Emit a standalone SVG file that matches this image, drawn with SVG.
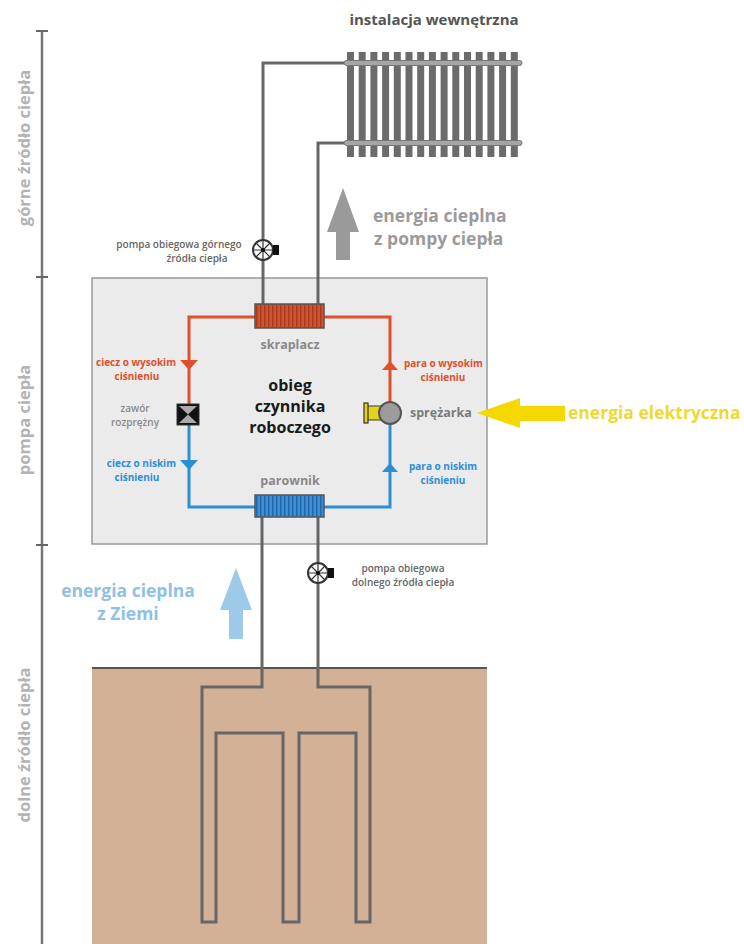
<svg xmlns="http://www.w3.org/2000/svg" width="744" height="944" viewBox="0 0 744 944">
  <defs>
    <style>
      text { font-family: "Open Sans", "Liberation Sans", sans-serif; font-weight: bold; }
      .axis-label { font-size: 16.5px; fill: #b3b3b3; text-anchor: middle; }
      .pipe { fill: none; stroke: #666; stroke-width: 3; }
      .red { fill: none; stroke: #e0502a; stroke-width: 3; }
      .blue { fill: none; stroke: #2b8fd6; stroke-width: 3; }
      .small-red { font-size: 10px; fill: #e0502a; }
      .small-blue { font-size: 10px; fill: #2b8fd6; }
      .grey-lbl { font-size: 10px; fill: #8a8a8a; font-weight: 600; text-anchor: middle; }
      .pump-lbl { font-size: 10px; fill: #666; font-weight: 600; text-anchor: middle; }
      .hx-lbl { font-size: 12.5px; fill: #888; text-anchor: middle; }
      .big { font-size: 17.5px; }
    </style>
    <pattern id="stripesRed" width="4" height="10" patternUnits="userSpaceOnUse">
      <rect width="4" height="10" fill="#cf5530"/>
      <rect width="1.5" height="10" fill="#a83b1e"/>
    </pattern>
    <pattern id="stripesBlue" width="4" height="10" patternUnits="userSpaceOnUse">
      <rect width="4" height="10" fill="#3d90d8"/>
      <rect width="1.5" height="10" fill="#2566a8"/>
    </pattern>
    <g id="pumpSymbol">
      <circle r="10" fill="#fff" stroke="#333" stroke-width="2"/>
      <path d="M-10,0 H10 M0,-10 V10 M-7,-7 L7,7 M-7,7 L7,-7" stroke="#333" stroke-width="1.2"/>
      <circle r="2" fill="#111"/>
      <rect x="10" y="-5" width="6" height="10" fill="#111"/>
    </g>
  </defs>

  <rect width="744" height="944" fill="#fff"/>

  <!-- side scale -->
  <g id="scale">
    <line x1="42" y1="31" x2="42" y2="944" stroke="#777" stroke-width="2.5"/>
    <path d="M36,31 H48 M36,277 H48 M36,545 H48" stroke="#666" stroke-width="2"/>
    <text class="axis-label" transform="translate(30,148) rotate(-90)">górne źródło ciepła</text>
    <text class="axis-label" transform="translate(30,420) rotate(-90)">pompa ciepła</text>
    <text class="axis-label" transform="translate(30,745) rotate(-90)">dolne źródło ciepła</text>
  </g>

  <!-- heat pump casing -->
  <g id="heat-pump-box">
    <rect x="92" y="278" width="395" height="266" fill="#ebebeb" stroke="#999" stroke-width="1.5"/>
  </g>

  <!-- ground -->
  <g id="ground">
    <rect x="92" y="668" width="395" height="276" fill="#d2b196"/>
    <line x1="92" y1="668" x2="487" y2="668" stroke="#555" stroke-width="2"/>
  </g>

  <!-- pipework -->
  <g id="connectors">
    <path class="pipe" d="M345,63 H263 V304"/>
    <path class="pipe" d="M345,143 H318 V304"/>
    <path class="pipe" d="M262,517 V687 H202 V922 H216 V733 H283 V922 H299 V733 H356 V922 H370 V687 H318 V517"/>
    <path class="red" d="M255,317 H189 V404"/>
    <path class="red" d="M324,317 H390 V402"/>
    <path class="blue" d="M189,425 V507 H255"/>
    <path class="blue" d="M324,507 H390 V424"/>
    <polygon points="180,360 198,360 189,370" fill="#e0502a"/>
    <polygon points="382,370 398,370 390,361" fill="#e0502a"/>
    <polygon points="180,460 198,460 189,470" fill="#2b8fd6"/>
    <polygon points="382,472 398,472 390,463" fill="#2b8fd6"/>
  </g>

  <!-- radiator -->
  <g id="radiator">
    <text x="434" y="25" font-size="15" fill="#555" text-anchor="middle">instalacja wewnętrzna</text>
    <g fill="#6b6b6b">
      <rect x="347" y="52" width="7" height="105"/>
      <rect x="358.7" y="52" width="7" height="105"/>
      <rect x="370.4" y="52" width="7" height="105"/>
      <rect x="382.1" y="52" width="7" height="105"/>
      <rect x="393.8" y="52" width="7" height="105"/>
      <rect x="405.5" y="52" width="7" height="105"/>
      <rect x="417.2" y="52" width="7" height="105"/>
      <rect x="428.9" y="52" width="7" height="105"/>
      <rect x="440.6" y="52" width="7" height="105"/>
      <rect x="452.3" y="52" width="7" height="105"/>
      <rect x="464" y="52" width="7" height="105"/>
      <rect x="475.7" y="52" width="7" height="105"/>
      <rect x="487.4" y="52" width="7" height="105"/>
      <rect x="499.1" y="52" width="7" height="105"/>
      <rect x="510.8" y="52" width="7" height="105"/>
    </g>
    <rect x="344" y="60.5" width="178" height="5" rx="2.5" fill="#a5a5a5" stroke="#777" stroke-width="1"/>
    <rect x="344" y="140.5" width="178" height="5" rx="2.5" fill="#a5a5a5" stroke="#777" stroke-width="1"/>
  </g>

  <!-- upper circulation pump -->
  <g id="pump-upper">
    <use href="#pumpSymbol" x="263" y="250"/>
    <text class="pump-lbl" x="179" y="248">pompa obiegowa górnego</text>
    <text class="pump-lbl" x="197" y="262">źródła ciepła</text>
  </g>

  <!-- heat output arrow -->
  <g id="heat-output">
    <polygon points="343,188 359,232 350,232 350,260 336,260 336,232 327,232" fill="#9a9a9a"/>
    <text class="big" x="373" y="222" fill="#9a9a9a">energia cieplna</text>
    <text class="big" x="374" y="245" fill="#9a9a9a">z pompy ciepła</text>
  </g>

  <!-- condenser -->
  <g id="skraplacz">
    <rect x="255" y="304" width="69" height="24" fill="url(#stripesRed)" stroke="#555" stroke-width="1.5"/>
    <text class="hx-lbl" x="290" y="349">skraplacz</text>
  </g>

  <!-- evaporator -->
  <g id="parownik">
    <rect x="255" y="495" width="69" height="22" fill="url(#stripesBlue)" stroke="#555" stroke-width="1.5"/>
    <text class="hx-lbl" x="290" y="485">parownik</text>
  </g>

  <!-- expansion valve -->
  <g id="zawor">
    <rect x="177" y="404" width="22" height="21" fill="#111" stroke="#333" stroke-width="1"/>
    <polygon points="179,406 197,406 188,414.5" fill="#aaa"/>
    <polygon points="179,423 197,423 188,414.5" fill="#aaa"/>
    <text class="grey-lbl" x="135" y="412">zawór</text>
    <text class="grey-lbl" x="135" y="426">rozprężny</text>
  </g>

  <!-- compressor -->
  <g id="sprezarka">
    <rect x="367" y="406" width="14" height="14" fill="#e6d21c" stroke="#555" stroke-width="1.2"/>
    <rect x="364" y="403" width="4" height="20" fill="#e6d21c" stroke="#333" stroke-width="1.2"/>
    <circle cx="390" cy="413" r="11" fill="#9c9c9c" stroke="#555" stroke-width="2"/>
    <text x="410" y="417" font-size="12.5" fill="#7a7a7a">sprężarka</text>
  </g>

  <!-- cycle labels -->
  <g id="cycle-labels">
    <text class="small-red" x="176" y="366" text-anchor="end">ciecz o wysokim</text>
    <text class="small-red" x="137" y="380" text-anchor="middle">ciśnieniu</text>
    <text class="small-blue" x="176" y="467" text-anchor="end">ciecz o niskim</text>
    <text class="small-blue" x="137" y="481" text-anchor="middle">ciśnieniu</text>
    <text class="small-red" x="404" y="367">para o wysokim</text>
    <text class="small-red" x="443" y="381" text-anchor="middle">ciśnieniu</text>
    <text class="small-blue" x="409" y="470">para o niskim</text>
    <text class="small-blue" x="443" y="484" text-anchor="middle">ciśnieniu</text>
    <g font-size="16" fill="#1a1a1a" text-anchor="middle">
      <text x="290" y="391">obieg</text>
      <text x="290" y="412">czynnika</text>
      <text x="290" y="433">roboczego</text>
    </g>
  </g>

  <!-- electric energy input -->
  <g id="electric-input">
    <polygon points="477,413 520,398 520,406 565,406 565,421 520,421 520,428" fill="#f5d800"/>
    <text class="big" x="568" y="419" fill="#efd92e">energia elektryczna</text>
  </g>

  <!-- lower circulation pump -->
  <g id="pump-lower">
    <use href="#pumpSymbol" x="318" y="573"/>
    <text class="pump-lbl" x="403" y="572">pompa obiegowa</text>
    <text class="pump-lbl" x="403" y="586">dolnego źródła ciepła</text>
  </g>

  <!-- ground heat input -->
  <g id="ground-heat">
    <polygon points="236,568 252,610 243,610 243,639 229,639 229,610 220,610" fill="#9ecae9"/>
    <text class="big" x="128" y="597" fill="#8fc0e6" text-anchor="middle">energia cieplna</text>
    <text class="big" x="128" y="620" fill="#8fc0e6" text-anchor="middle">z Ziemi</text>
  </g>
</svg>
